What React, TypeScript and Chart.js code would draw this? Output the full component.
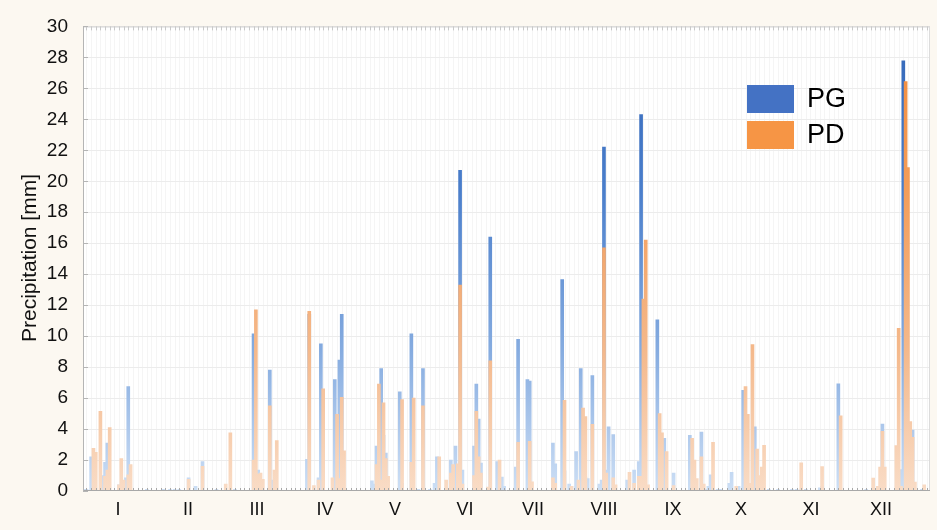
import React, { useEffect, useRef } from "react";
import { Chart, registerables } from "chart.js";

Chart.register(...registerables);

// Month labels and the day-of-year where each label sits
const monthLabels = ["I", "II", "III", "IV", "V", "VI", "VII", "VIII", "IX", "X", "XI", "XII"];
const monthTickDays = [15.6, 45.7, 75.5, 104.8, 135.0, 165.1, 194.4, 225.0, 254.7, 284.1, 314.2, 344.4];

// Y ticks
const yMin = 0;
const yMax = 30;
const yStep = 2;

// PG series (day of year, mm)
const pgDays = [
  1, 2, 4, 9, 10, 11, 16, 19, 20, 28, 35, 38, 40, 42, 46, 49, 52, 58,
  66, 74, 76, 81, 82,
  97, 98, 102, 103, 109, 111, 112,
  125, 126, 127, 129, 130, 131, 137, 138, 142, 145, 147, 150, 152, 153,
  159, 161, 163, 164, 169, 170, 171, 172, 176, 179, 181, 182,
  187, 188, 192, 193, 203, 204, 207, 208, 210, 211,
  213, 215, 217, 218, 220, 223, 224, 225, 226, 227, 229, 235, 238, 240, 241, 242,
  248, 251, 255, 262, 267, 269, 270, 271, 274, 275, 279, 280, 283,
  285, 290, 296, 300,
  306, 308, 310, 312, 318, 319, 326,
  338, 345, 353, 354, 356, 358, 362
];
const pgValues = [
  0.1, 0.1, 2.2, 1.0, 1.85, 3.1, 0.4, 0.85, 6.75, 0.1, 0.1, 0.1, 0.1, 0.1, 0.85, 0.3, 1.9, 0.1,
  0.1, 10.15, 1.35, 7.8, 0.7,
  2.05, 11.4, 0.85, 9.5, 7.2, 8.45, 11.4,
  0.65, 0.45, 2.9, 7.9, 3.6, 2.45, 6.4, 0.5, 10.15, 0.1, 7.9, 0.1, 0.5, 2.2,
  2.0, 2.9, 20.7, 1.35, 2.9, 6.9, 4.65, 1.8, 16.4, 1.9, 0.9, 0.3,
  1.55, 9.8, 7.2, 7.1, 3.1, 1.75, 13.65, 1.3, 0.45, 0.3,
  2.55, 7.9, 0.9, 0.8, 7.45, 0.45, 0.7, 22.2, 1.35, 4.15, 3.65, 0.7, 1.35, 1.9, 24.3, 1.85,
  11.05, 3.4, 1.15, 3.6, 3.8, 0.1, 0.3, 1.05, 0.1, 0.1, 0.5, 1.2, 0.3,
  6.5, 4.15, 0.1, 0.1,
  0.1, 0.1, 0.1, 0.1, 0.2, 0.3, 6.92,
  0.1, 4.32, 1.39, 27.78, 1.0, 3.93, 0.1
];

// PD series (day of year, mm)
const pdDays = [
  5, 6, 8, 10, 11, 12, 16, 17, 18, 20, 21, 46, 52,
  62, 64, 74, 75, 76, 77, 78, 81, 83, 84,
  98, 100, 102, 104, 108, 110, 111, 112, 113,
  127, 128, 129, 130, 131, 132, 138, 142, 143, 147, 154, 157,
  159, 160, 162, 163, 164, 169, 170, 171, 172, 175, 176, 180,
  188, 193, 194, 203, 204, 208, 211,
  214, 216, 217, 220, 225, 226, 229, 230, 236, 238, 240, 241, 242, 243, 244,
  249, 250, 252, 255, 263, 264, 265, 267, 268, 272, 282,
  286, 287, 288, 289, 291, 292, 293, 294,
  310, 319, 327,
  341, 343, 344, 345, 346, 351, 352, 353, 355, 356, 357, 358, 359, 363
];
const pdValues = [
  2.75, 2.5, 5.15, 0.95, 1.35, 4.1, 0.4, 2.1, 0.7, 1.05, 1.7, 0.75, 1.6,
  0.45, 3.75, 2.0, 11.7, 1.1, 1.15, 0.75, 5.5, 1.35, 3.25,
  11.6, 0.35, 0.7, 6.6, 0.85, 4.95, 0.8, 6.05, 2.6,
  1.7, 6.9, 0.7, 5.7, 2.1, 0.95, 5.9, 1.85, 6.0, 5.5, 2.2, 0.7,
  1.15, 1.7, 1.75, 13.3, 0.45, 1.0, 5.15, 2.2, 1.15, 0.25, 8.4, 2.0,
  3.15, 3.2, 0.6, 0.85, 0.5, 5.85, 0.3,
  0.7, 5.35, 4.8, 4.3, 15.7, 1.15, 0.85, 0.4, 1.2, 0.5, 0.95, 0.95, 12.4, 16.2, 0.4,
  5.0, 3.75, 2.55, 0.35, 3.4, 2.0, 0.8, 2.2, 0.45, 3.15, 0.3,
  6.75, 4.95, 0.5, 9.45, 2.7, 1.0, 1.55, 2.95,
  1.82, 1.58, 4.85,
  0.83, 0.3, 1.54, 3.85, 1.54, 2.93, 10.51, 0.3, 26.43, 20.88, 4.49, 3.46, 0.58, 0.4
];

const PG_COLOR = "#4472c4";
const PD_COLOR = "#f69545";
const FONT = "'Liberation Sans', Arial, sans-serif";

function toPoints(days: number[], values: number[]) {
  return days.map((d, i) => ({ x: d, y: values[i] }));
}

function makeGradient(chart: any, stops: [number, string][]) {
  const area = chart.chartArea;
  if (!area) return stops[stops.length - 1][1];
  const g = chart.ctx.createLinearGradient(0, area.top, 0, area.bottom);
  stops.forEach(([p, c]) => g.addColorStop(p, c));
  return g;
}

const framePlugin = {
  id: "frame",
  beforeDraw(chart: any) {
    const { ctx, chartArea: a, width, height } = chart;
    ctx.save();
    ctx.fillStyle = "#fcf8f1";
    ctx.fillRect(0, 0, width, height);
    ctx.fillStyle = "#ffffff";
    ctx.fillRect(a.left, a.top, a.right - a.left, a.bottom - a.top);
    ctx.restore();
  },
  beforeDatasetsDraw(chart: any) {
    const { ctx, chartArea: a, scales } = chart;
    const xs = scales.x;
    const ys = scales.y;
    ctx.save();
    ctx.lineWidth = 1;
    ctx.strokeStyle = "#f5f5f5";
    for (let d = 2; d <= 365; d += 2) {
      const px = Math.round(xs.getPixelForValue(d)) + 0.5;
      ctx.beginPath();
      ctx.moveTo(px, a.top);
      ctx.lineTo(px, a.bottom);
      ctx.stroke();
    }
    ctx.strokeStyle = "#ececec";
    for (let v = yMin + yStep; v < yMax; v += yStep) {
      const py = Math.round(ys.getPixelForValue(v)) + 0.5;
      ctx.beginPath();
      ctx.moveTo(a.left, py);
      ctx.lineTo(a.right, py);
      ctx.stroke();
    }
    ctx.restore();
  },
  afterDatasetsDraw(chart: any) {
    const { ctx, chartArea: a, scales } = chart;
    const xs = scales.x;
    const ys = scales.y;
    ctx.save();
    ctx.lineWidth = 1;
    // top border with small ticks
    ctx.strokeStyle = "#c9c9c9";
    ctx.beginPath();
    ctx.moveTo(a.left, a.top + 0.5);
    ctx.lineTo(a.right, a.top + 0.5);
    for (let d = 2; d <= 365; d += 2) {
      const px = Math.round(xs.getPixelForValue(d)) + 0.5;
      ctx.moveTo(px, a.top);
      ctx.lineTo(px, a.top + 4);
    }
    ctx.stroke();
    // right border
    ctx.strokeStyle = "#dcdcdc";
    ctx.beginPath();
    ctx.moveTo(a.right - 0.5, a.top);
    ctx.lineTo(a.right - 0.5, a.bottom);
    ctx.stroke();
    // bottom axis with ticks
    ctx.strokeStyle = "#a8a8a8";
    ctx.beginPath();
    ctx.moveTo(a.left, Math.round(a.bottom) - 0.5);
    ctx.lineTo(a.right, Math.round(a.bottom) - 0.5);
    for (let d = 2; d <= 365; d += 2) {
      const px = Math.round(xs.getPixelForValue(d)) + 0.5;
      ctx.moveTo(px, a.bottom);
      ctx.lineTo(px, a.bottom - 3);
    }
    ctx.stroke();
    // left axis with inward ticks
    ctx.strokeStyle = "#b5b5b5";
    ctx.beginPath();
    ctx.moveTo(a.left + 0.5, a.top);
    ctx.lineTo(a.left + 0.5, a.bottom);
    for (let v = yMin; v <= yMax; v += yStep) {
      const py = Math.round(ys.getPixelForValue(v)) + 0.5;
      ctx.moveTo(a.left, py);
      ctx.lineTo(a.left + 5, py);
    }
    ctx.stroke();

    // y title
    ctx.fillStyle = "#111111";
    ctx.font = `21px ${FONT}`;
    ctx.textAlign = "center";
    ctx.textBaseline = "middle";
    ctx.translate(30, 258);
    ctx.rotate(-Math.PI / 2);
    ctx.fillText("Precipitation [mm]", 0, 0);
    ctx.restore();

    // legend
    ctx.save();
    const items = chart.data.datasets.map((ds: any) => ({ label: ds.label, color: ds.legendColor }));
    const lx = 747;
    const ly = 85;
    items.forEach((it: any, i: number) => {
      const y0 = ly + i * 36;
      ctx.fillStyle = it.color;
      ctx.fillRect(lx, y0, 47, 28);
      ctx.fillStyle = "#000000";
      ctx.font = `27px ${FONT}`;
      ctx.textAlign = "left";
      ctx.textBaseline = "middle";
      ctx.fillText(it.label, lx + 60, y0 + 15);
    });
    ctx.restore();
  },
};

export default function App() {
  const ref = useRef<HTMLCanvasElement | null>(null);

  useEffect(() => {
    document.body.style.margin = "0";
    const canvas = ref.current;
    if (!canvas) return;
    const chart = new Chart(canvas, {
      type: "bar",
      data: {
        datasets: [
          {
            label: "PG",
            data: toPoints(pgDays, pgValues),
            legendColor: PG_COLOR,
            order: 2,
            grouped: false,
            barThickness: 3,
            borderWidth: 0,
            backgroundColor: (c: any) =>
              makeGradient(c.chart, [
                [0, "#3366b8"],
                [0.35, "#4a7ecb"],
                [0.7, "#86ace0"],
                [1, "#cddff5"],
              ]),
          } as any,
          {
            label: "PD",
            data: toPoints(pdDays, pdValues),
            legendColor: PD_COLOR,
            order: 1,
            grouped: false,
            barThickness: 3,
            borderWidth: 0,
            backgroundColor: (c: any) =>
              makeGradient(c.chart, [
                [0, "#f28a3a"],
                [0.35, "#f39d5a"],
                [0.7, "#f4b98c"],
                [1, "#f9dcc6"],
              ]),
          } as any,
        ],
      },
      options: {
        responsive: false,
        animation: false,
        devicePixelRatio: 1,
        layout: { padding: { top: 22, right: 7, left: 0, bottom: 0 } },
        plugins: {
          legend: { display: false },
          tooltip: { enabled: false },
        },
        scales: {
          x: {
            type: "linear",
            offset: false,
            min: 0.5,
            max: 365.5,
            grid: { display: false, drawTicks: false },
            border: { display: false },
            afterBuildTicks: (scale: any) => {
              scale.ticks = monthTickDays.map((v) => ({ value: v }));
            },
            afterFit: (scale: any) => {
              scale.height = 39;
            },
            ticks: {
              autoSkip: false,
              maxRotation: 0,
              padding: 8,
              color: "#111111",
              font: { family: FONT, size: 18 },
              callback: (v: any) => {
                const i = monthTickDays.indexOf(Number(v));
                return i >= 0 ? monthLabels[i] : "";
              },
            },
          },
          y: {
            min: yMin,
            max: yMax,
            grid: { display: false, drawTicks: false },
            border: { display: false },
            afterFit: (scale: any) => {
              scale.width = 83;
            },
            ticks: {
              stepSize: yStep,
              padding: 15,
              color: "#111111",
              font: { family: FONT, size: 19 },
            },
          },
        },
      },
      plugins: [framePlugin],
    } as any);
    return () => chart.destroy();
  }, []);

  return (
    <div style={{ width: 937, height: 530 }}>
      <canvas ref={ref} width={937} height={530} style={{ display: "block" }} />
    </div>
  );
}
